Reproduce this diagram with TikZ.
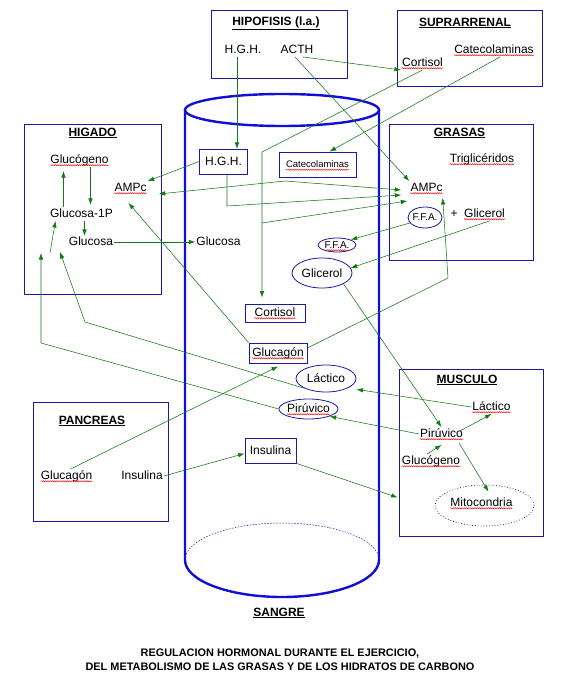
\documentclass[tikz,border=0pt]{standalone}
\usepackage{fontspec}
\setmainfont{Liberation Sans}
\usetikzlibrary{arrows.meta,shapes.geometric,decorations.pathmorphing}
\definecolor{boxblue}{RGB}{25,25,165}
\definecolor{cylblue}{RGB}{15,15,215}
\definecolor{arrgreen}{RGB}{20,120,20}
\tikzset{
  lbl/.style={inner sep=1pt, text height=9pt, text depth=2.5pt},
  organ/.style={draw=boxblue, line width=0.8pt, inner sep=0pt},
  bbox/.style={draw=boxblue, line width=0.8pt, inner sep=0pt},
  ell/.style={ellipse, draw=boxblue, line width=0.8pt, inner sep=0pt},
  ttl/.style={font=\fontsize{12}{14}\selectfont\bfseries, inner sep=1pt},
  conn/.style={->, draw=arrgreen, line width=0.55pt, >={Latex[length=6.5pt,width=4.5pt]}},
  spell/.style={draw=red, line width=0.45pt, decorate, decoration={snake, amplitude=0.6pt, segment length=2.2pt}},
}
\begin{document}
\begin{tikzpicture}[x=1pt,y=-1pt,font=\fontsize{12}{14}\selectfont]
\useasboundingbox (0,0) rectangle (574,682);

% sangre
\draw[cylblue, line width=2.4pt] (282,110) ellipse [x radius=97, y radius=16];
\draw[cylblue, line width=2.4pt] (185,110) -- (185,560) arc[start angle=180, end angle=0, x radius=97, y radius=37] -- (379,110);
\draw[cylblue, line width=0.5pt, dash pattern=on 1.5pt off 1.5pt] (185,560) arc[start angle=180, end angle=360, x radius=97, y radius=37];

% organos
\node[organ, minimum width=136pt, minimum height=68pt] (hipofisis) at (279,44) {};
\node[organ, minimum width=145pt, minimum height=76pt] (suprarrenal) at (469.5,48) {};
\node[organ, minimum width=137pt, minimum height=170pt] (higado) at (92.5,209) {};
\node[organ, minimum width=144pt, minimum height=136pt] (grasas) at (461,192) {};
\node[organ, minimum width=144pt, minimum height=167pt] (musculo) at (471,452.5) {};
\node[organ, minimum width=135pt, minimum height=119pt] (pancreas) at (100.5,461.5) {};

\node[ttl] (tHip) at (276,23) {\underline{HIPOFISIS (l.a.)}};
\node[ttl] (tSup) at (465,23) {\underline{SUPRARRENAL}};
\node[ttl] (tHig) at (92.5,133) {\underline{HIGADO}};
\node[ttl] (tGra) at (459.5,133) {\underline{GRASAS}};
\node[ttl] (tMus) at (467,380) {\underline{MUSCULO}};
\node[ttl] (tPan) at (92,421) {\underline{PANCREAS}};
\node[ttl] (tSan) at (279,613) {\underline{SANGRE}};
\node[font=\fontsize{10.9}{14}\selectfont\bfseries, align=center] (caption) at (280,660)
  {REGULACION HORMONAL DURANTE EL EJERCICIO,\\DEL METABOLISMO DE LAS GRASAS Y DE LOS HIDRATOS DE CARBONO};

% textos
\node[lbl] (hghH) at (243,50) {H.G.H.};
\node[lbl] (acth) at (297,50) {ACTH};
\node[lbl] (catS) at (494,50) {Catecolaminas};
\node[lbl] (cortS) at (422.5,63) {Cortisol};
\node[lbl] (gcgL) at (79.5,160) {Glucógeno};
\node[lbl] (ampL) at (130.5,188) {AMPc};
\node[lbl] (g1p) at (81.5,214) {Glucosa-1P};
\node[lbl] (gluL) at (91,242) {Glucosa};
\node[lbl] (gluB) at (218.5,242) {Glucosa};
\node[lbl] (triG) at (482,159) {Triglicéridos};
\node[lbl] (ampG) at (426.5,188) {AMPc};
\node[lbl] (plus) at (454,214) {+};
\node[lbl] (gliG) at (484.5,214) {Glicerol};
\node[lbl] (glgP) at (66.5,476) {Glucagón};
\node[lbl] (insP) at (142,476) {Insulina};
\node[lbl] (lacM) at (491.5,407) {Láctico};
\node[lbl] (pirM) at (441.5,434) {Pirúvico};
\node[lbl] (gcgM) at (431,461) {Glucógeno};

% sangre: cajas y elipses
\node[bbox, minimum width=48pt, minimum height=25pt] (hghB) at (223.5,161.5) {H.G.H.};
\node[bbox, minimum width=77pt, minimum height=25pt] (catB) at (317.5,164.5) {};
\node[lbl, font=\fontsize{9.5}{11}\selectfont] (catBt) at (catB) {Catecolaminas};
\node[bbox, minimum width=60pt, minimum height=18pt] (cortB) at (275,313) {};
\node[lbl] (cortBt) at (cortB) {Cortisol};
\node[bbox, minimum width=58pt, minimum height=20pt] (glgB) at (278,353) {};
\node[lbl] (glgBt) at (glgB) {Glucagón};
\node[bbox, minimum width=51pt, minimum height=25pt] (insB) at (270.5,450.5) {Insulina};

\node[ell, minimum width=38pt, minimum height=14pt] (ffaB) at (337,245) {};
\node[lbl, font=\fontsize{10}{12}\selectfont] (ffaBt) at (ffaB) {F.F.A.};
\node[ell, minimum width=60pt, minimum height=30pt] (gliB) at (322,273) {Glicerol};
\node[ell, minimum width=60pt, minimum height=27pt] (lacB) at (326,378.5) {Láctico};
\node[ell, minimum width=59pt, minimum height=20pt] (pirB) at (308.5,409) {};
\node[lbl] (pirBt) at (pirB) {Pirúvico};
\node[ell, minimum width=34pt, minimum height=21pt] (ffaG) at (425,217.5) {};
\node[lbl, font=\fontsize{10}{12}\selectfont] (ffaGt) at (ffaG) {F.F.A.};
\node[ell, draw=black, dotted, line width=0.6pt, minimum width=99pt, minimum height=41pt] (mito) at (484.5,505.5) {};
\node[lbl] (mitoT) at (481.5,503) {Mitocondria};

% puntos de quiebre
\coordinate (c1) at (262,152);
\coordinate (c2) at (262,223);
\coordinate (pk) at (285,181);
\coordinate (hg) at (227,206);
\coordinate (gg) at (448,278);
\coordinate (g1in) at (50,253);
\coordinate (p1) at (41,343);
\coordinate (p2) at (41,253);
\coordinate (l1) at (85,322);
\coordinate (l2) at (60,252);

% hipofisis y suprarrenal
\draw[conn] ([xshift=-6pt]hghH.south) -- ++(0,92);
\draw[conn] ([xshift=6pt]acth.south) -- (cortS.south west);
\draw[conn] ([xshift=-2pt]acth.south) -- (ampG.north west);
\draw[conn, shorten >=6pt] (cortS.south) -- (c1) -- (c1 |- cortB.north);
\draw[conn] (c2) -- ([shift={(-2,13)}]ampG.west);
\draw[conn] ([xshift=6pt]catS.south) -- ([xshift=12pt]catB.north);

% sangre - higado - grasas
\draw[conn] (hghB.west) -- (ampL.north east);
\draw[conn] (hghB.south -| hg) -- (hg) -- ([shift={(-8,7)}]ampG.west);
\draw[conn, <->] ([shift={(11,6)}]ampL.east) -- (pk) -- ([shift={(-8,2)}]ampG.west);
\draw[conn] (gluL.east) -- (gluB.west);
\draw[conn] ([xshift=11pt]gcgL.south) -- ++(0,38);
\draw[conn] ([xshift=-18pt]g1p.north) -- ++(0,-36);
\draw[conn] ([xshift=3pt]g1p.south) -- ++(0,15);
\draw[conn] (g1in) -- ([xshift=-26pt]g1p.south);
\draw[conn] (pirB.west) -- (p1) -- (p2);
\draw[conn] (lacB.south west) -- (l1) -- (l2);
\draw[conn] (ffaG.200) -- (ffaB.north east);
\draw[conn] ([xshift=5pt]gliG.south) -- (gliB.10);
\draw[conn] (gliB.south east) -- (pirM.north);
\draw[conn] ([shift={(0,-5)}]glgB.east) -- (gg) -- ([shift={(-1,3)}]ampG.south east);
\draw[conn] (glgB.north west) -- ([shift={(-2,8)}]ampL.south);

% pancreas
\draw[conn] ([xshift=4pt]glgP.north) -- ([shift={(0,3)}]glgB.south);
\draw[conn] (insP.east) -- ([shift={(0,3)}]insB.west);
\draw[conn] (insB.south east) -- ([shift={(-1,45)}]musculo.west);

% musculo
\draw[conn] (lacM.west) -- ([shift={(9,1)}]lacB.south east);
\draw[conn] (pirM.west) -- (pirB.south east);
\draw[conn] ([shift={(-4,-3)}]pirM.east) -- (lacM.south);
\draw[conn] ([xshift=-4pt]gcgM.north) -- ([shift={(0,4)}]pirM.south);
\draw[conn] ([shift={(-5,2)}]pirM.south east) -- ([shift={(4,7)}]mito.north);

% subrayado ortografico
\foreach \n in {cortS,catS,gcgL,ampL,catBt,cortBt,glgBt,ffaBt,triG,ampG,gliG,glgP,pirBt,lacM,pirM,gcgM,mitoT}
  \draw[spell] ([shift={(1,2)}]\n.base west) -- ([shift={(-1,2)}]\n.base east);
\end{tikzpicture}
\end{document}
